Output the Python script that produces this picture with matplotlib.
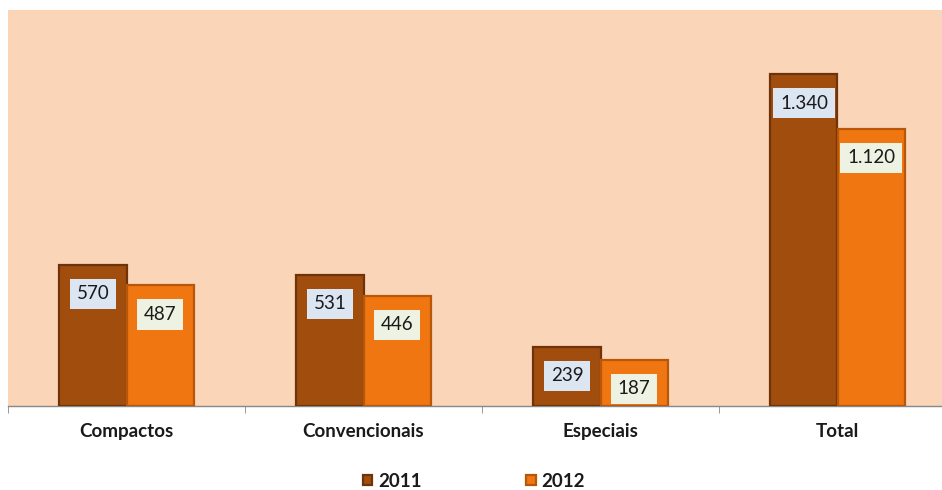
import matplotlib
matplotlib.use("Agg")
import matplotlib.pyplot as plt
import numpy as np

categories = ["Compactos", "Convencionais", "Especiais", "Total"]
series_names = ["2011", "2012"]
values_2011 = [570, 531, 239, 1340]
values_2012 = [487, 446, 187, 1120]

colors = ["#A04D0E", "#F07611"]
edge_colors = ["#6E330A", "#B8560A"]
box_colors = ["#DCE6F2", "#EEF2E2"]
bg = "#FAD5B8"

plt.rcParams['font.family'] = ['Lato', 'DejaVu Sans']

def fmt(v):
    return f"{v:,}".replace(",", ".")

fig = plt.figure(figsize=(9.42, 4.90), dpi=100)
ax = fig.add_axes([8/942, 84/490, 948/942, 396/490])
ax.set_facecolor(bg)

x = np.arange(len(categories))
w = 0.283
for i, (vals, name) in enumerate(zip([values_2011, values_2012], series_names)):
    off = (i - 0.5) * w
    bars = ax.bar(x + off, vals, width=w, color=colors[i], edgecolor=edge_colors[i],
                  linewidth=1.6, label=name, zorder=3)
    for b, v in zip(bars, vals):
        ax.annotate(fmt(v), (b.get_x() + b.get_width() / 2, v), xytext=(0, -29),
                    textcoords="offset pixels",
                    ha="center", va="center", fontsize=13.5, color="#1a1a1a",
                    bbox=dict(boxstyle="square,pad=0.35", fc=box_colors[i], ec="none"),
                    zorder=5)

ax.set_xlim(-0.5, 3.5)
ax.set_ylim(0, 1600)
ax.set_yticks([])
ax.set_xticks(x)
ax.set_xticklabels(categories, fontsize=13.5, fontweight="bold", color="#1a1a1a")
ax.set_xticks(np.arange(-0.5, 3.6, 1.0), minor=True)
ax.tick_params(axis="x", which="major", length=0, pad=12)
ax.tick_params(axis="x", which="minor", length=5, color="#888888", direction="out")
for s in ["top", "right", "left"]:
    ax.spines[s].set_visible(False)
ax.spines["bottom"].set_color("#888888")
ax.spines["bottom"].set_linewidth(1.0)

leg = fig.legend(loc="center", bbox_to_anchor=(0.503, 9/490), ncol=2, frameon=False,
                 handlelength=0.5, handleheight=0.4, columnspacing=5.6, handletextpad=0.3,
                 prop={"weight": "bold", "size": 13.5})
for t in leg.get_texts():
    t.set_color("#1a1a1a")

fig.savefig("out.png", dpi=100, facecolor="white")
